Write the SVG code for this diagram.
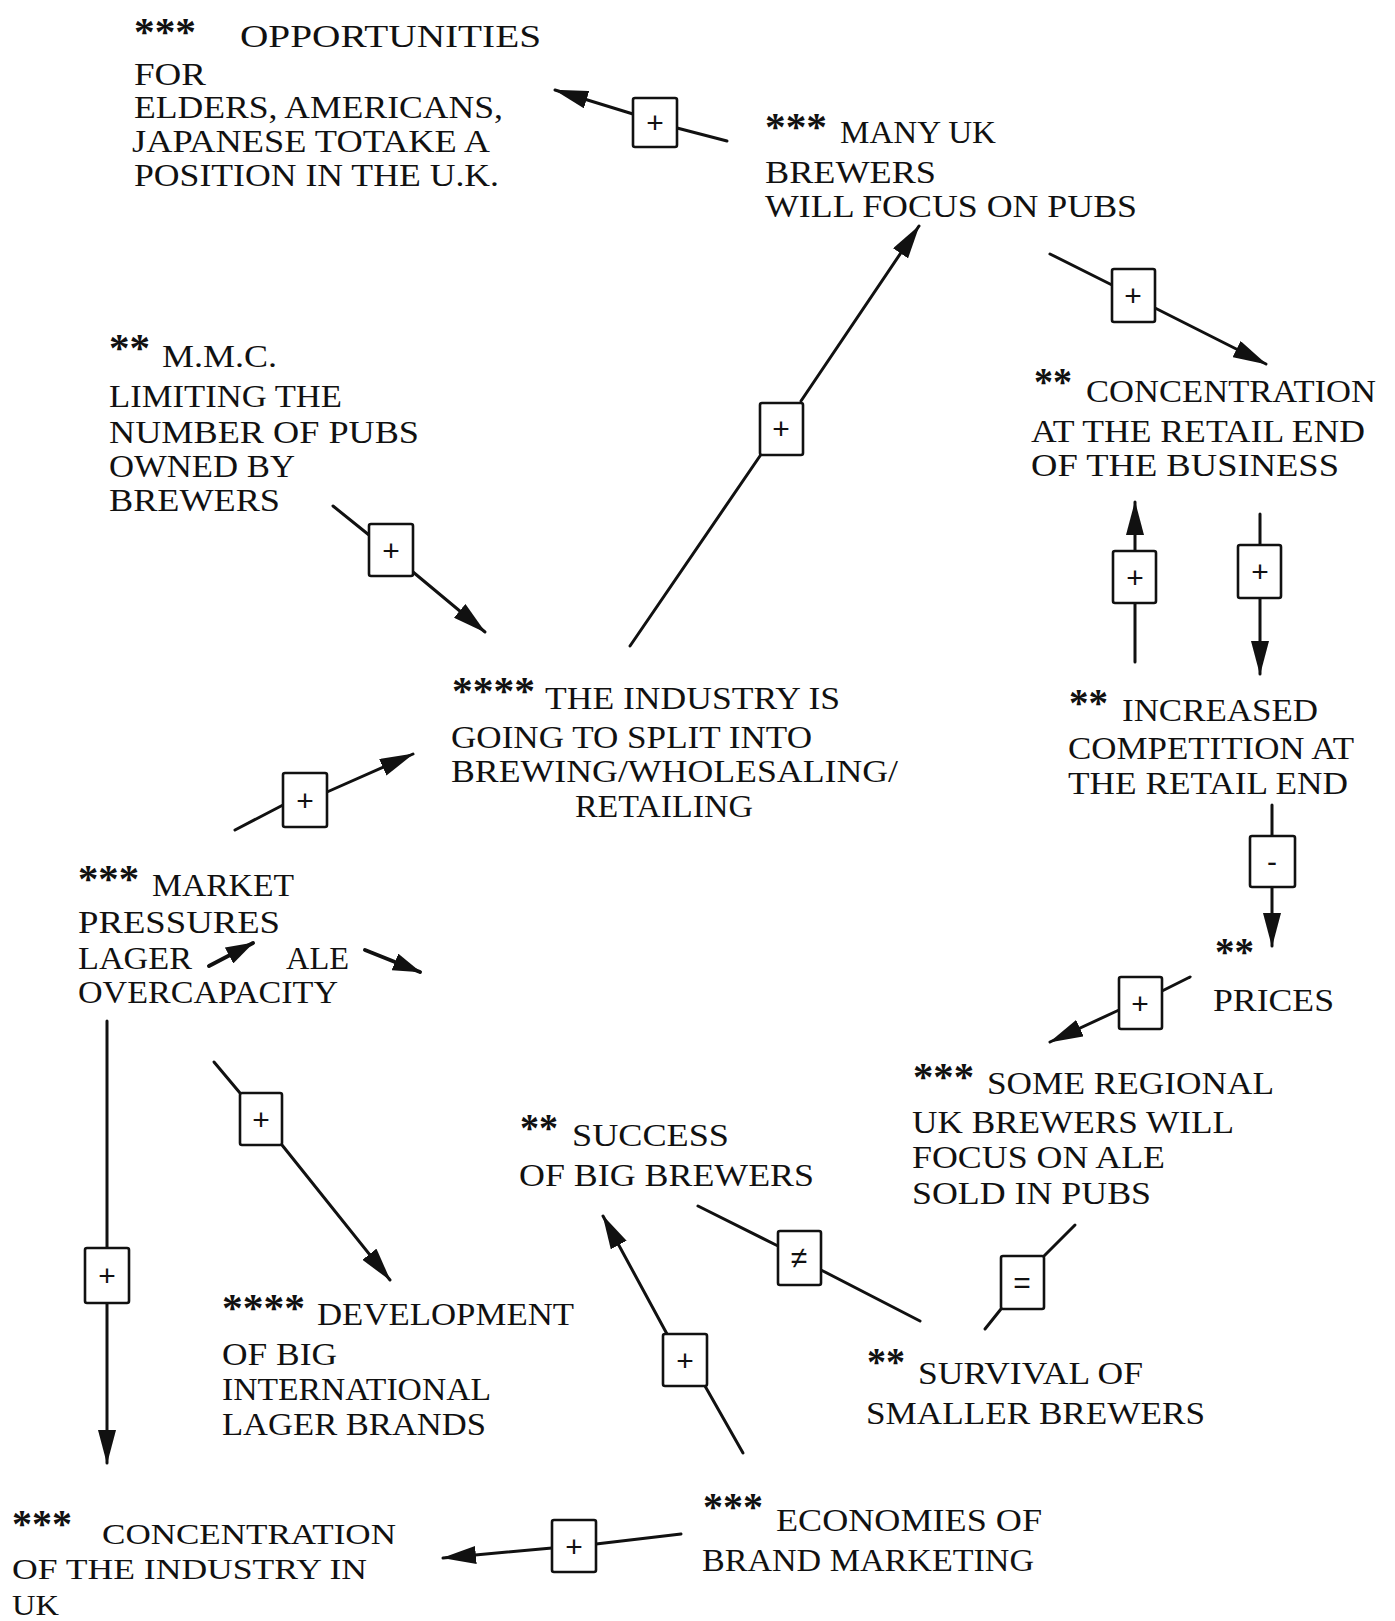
<svg xmlns="http://www.w3.org/2000/svg" width="1395" height="1621" viewBox="0 0 1395 1621">
<style>
.t{font-family:"Liberation Serif","Times New Roman",serif;font-size:32px;fill:#111}
.t2{font-family:"Liberation Serif","Times New Roman",serif;font-size:30px;fill:#111}
.a{font-family:"Liberation Serif","Times New Roman",serif;font-size:40px;font-weight:bold;fill:#111}
.c{stroke:#111;stroke-width:3;fill:none;stroke-linecap:round}
.cs{stroke:#111;stroke-width:4;fill:none;stroke-linecap:round}
.b{fill:#fff;stroke:#111;stroke-width:2.6}
.sg{font-family:"Liberation Sans",Arial,sans-serif;font-size:30px;fill:#111;text-anchor:middle}
</style>
<defs>
<marker id="ah" viewBox="0 0 34 18" refX="33" refY="9" markerWidth="34" markerHeight="18" markerUnits="userSpaceOnUse" orient="auto">
<path d="M0,0 L34,9 L0,18 z" fill="#111"/>
</marker>
<marker id="ahs" viewBox="0 0 28 18" refX="27" refY="9" markerWidth="28" markerHeight="18" markerUnits="userSpaceOnUse" orient="auto">
<path d="M0,0 L28,9 L0,18 z" fill="#111"/>
</marker>
</defs>

<g id="n-opportunities">
<text class="a" x="134" y="45" textLength="62" lengthAdjust="spacingAndGlyphs">***</text>
<text class="t" x="240" y="47" textLength="301" lengthAdjust="spacingAndGlyphs">OPPORTUNITIES</text>
<text class="t" x="134" y="85" textLength="72" lengthAdjust="spacingAndGlyphs">FOR</text>
<text class="t" x="134" y="118" textLength="369" lengthAdjust="spacingAndGlyphs">ELDERS, AMERICANS,</text>
<text class="t" x="132" y="152" textLength="358" lengthAdjust="spacingAndGlyphs">JAPANESE TOTAKE A</text>
<text class="t" x="134" y="186" textLength="365" lengthAdjust="spacingAndGlyphs">POSITION IN THE U.K.</text>
</g>

<g id="n-many-uk">
<text class="a" x="765" y="140" textLength="62" lengthAdjust="spacingAndGlyphs">***</text>
<text class="t" x="840" y="143" textLength="156" lengthAdjust="spacingAndGlyphs">MANY UK</text>
<text class="t" x="765" y="183" textLength="171" lengthAdjust="spacingAndGlyphs">BREWERS</text>
<text class="t" x="765" y="217" textLength="372" lengthAdjust="spacingAndGlyphs">WILL FOCUS ON PUBS</text>
</g>

<g id="n-mmc">
<text class="a" x="109" y="361" textLength="41" lengthAdjust="spacingAndGlyphs">**</text>
<text class="t" x="162" y="367" textLength="115" lengthAdjust="spacingAndGlyphs">M.M.C.</text>
<text class="t" x="109" y="407" textLength="233" lengthAdjust="spacingAndGlyphs">LIMITING THE</text>
<text class="t" x="109" y="443" textLength="310" lengthAdjust="spacingAndGlyphs">NUMBER OF PUBS</text>
<text class="t" x="109" y="477" textLength="186" lengthAdjust="spacingAndGlyphs">OWNED BY</text>
<text class="t" x="109" y="511" textLength="171" lengthAdjust="spacingAndGlyphs">BREWERS</text>
</g>

<g id="n-conc-retail">
<text class="a" x="1034" y="395" textLength="38" lengthAdjust="spacingAndGlyphs">**</text>
<text class="t" x="1086" y="402" textLength="290" lengthAdjust="spacingAndGlyphs">CONCENTRATION</text>
<text class="t" x="1031" y="442" textLength="334" lengthAdjust="spacingAndGlyphs">AT THE RETAIL END</text>
<text class="t" x="1031" y="476" textLength="308" lengthAdjust="spacingAndGlyphs">OF THE BUSINESS</text>
</g>

<g id="n-industry">
<text class="a" x="452" y="704" textLength="83" lengthAdjust="spacingAndGlyphs">****</text>
<text class="t" x="545" y="709" textLength="295" lengthAdjust="spacingAndGlyphs">THE INDUSTRY IS</text>
<text class="t" x="451" y="748" textLength="361" lengthAdjust="spacingAndGlyphs">GOING TO SPLIT INTO</text>
<text class="t" x="451" y="782" textLength="447" lengthAdjust="spacingAndGlyphs">BREWING/WHOLESALING/</text>
<text class="t" x="575" y="817" textLength="178" lengthAdjust="spacingAndGlyphs">RETAILING</text>
</g>

<g id="n-competition">
<text class="a" x="1069" y="716" textLength="39" lengthAdjust="spacingAndGlyphs">**</text>
<text class="t" x="1122" y="721" textLength="196" lengthAdjust="spacingAndGlyphs">INCREASED</text>
<text class="t" x="1068" y="759" textLength="286" lengthAdjust="spacingAndGlyphs">COMPETITION AT</text>
<text class="t" x="1068" y="794" textLength="280" lengthAdjust="spacingAndGlyphs">THE RETAIL END</text>
</g>

<g id="n-market">
<text class="a" x="78" y="892" textLength="61" lengthAdjust="spacingAndGlyphs">***</text>
<text class="t" x="152" y="896" textLength="142" lengthAdjust="spacingAndGlyphs">MARKET</text>
<text class="t" x="78" y="933" textLength="202" lengthAdjust="spacingAndGlyphs">PRESSURES</text>
<text class="t" x="78" y="969" textLength="114" lengthAdjust="spacingAndGlyphs">LAGER</text>
<text class="t" x="286" y="969" textLength="63" lengthAdjust="spacingAndGlyphs">ALE</text>
<text class="t" x="78" y="1003" textLength="260" lengthAdjust="spacingAndGlyphs">OVERCAPACITY</text>
<line class="cs" x1="209" y1="966" x2="253" y2="943" marker-end="url(#ahs)"/>
<line class="cs" x1="365" y1="950" x2="420" y2="972" marker-end="url(#ahs)"/>
</g>

<g id="n-prices">
<text class="a" x="1215" y="965" textLength="39" lengthAdjust="spacingAndGlyphs">**</text>
<text class="t" x="1213" y="1011" textLength="121" lengthAdjust="spacingAndGlyphs">PRICES</text>
</g>

<g id="n-regional">
<text class="a" x="913" y="1090" textLength="61" lengthAdjust="spacingAndGlyphs">***</text>
<text class="t" x="987" y="1094" textLength="287" lengthAdjust="spacingAndGlyphs">SOME REGIONAL</text>
<text class="t" x="912" y="1133" textLength="322" lengthAdjust="spacingAndGlyphs">UK BREWERS WILL</text>
<text class="t" x="912" y="1168" textLength="253" lengthAdjust="spacingAndGlyphs">FOCUS ON ALE</text>
<text class="t" x="912" y="1204" textLength="239" lengthAdjust="spacingAndGlyphs">SOLD IN PUBS</text>
</g>

<g id="n-success">
<text class="a" x="520" y="1141" textLength="38" lengthAdjust="spacingAndGlyphs">**</text>
<text class="t" x="572" y="1146" textLength="157" lengthAdjust="spacingAndGlyphs">SUCCESS</text>
<text class="t" x="519" y="1186" textLength="295" lengthAdjust="spacingAndGlyphs">OF BIG BREWERS</text>
</g>

<g id="n-development">
<text class="a" x="222" y="1321" textLength="83" lengthAdjust="spacingAndGlyphs">****</text>
<text class="t" x="317" y="1325" textLength="257" lengthAdjust="spacingAndGlyphs">DEVELOPMENT</text>
<text class="t" x="222" y="1365" textLength="115" lengthAdjust="spacingAndGlyphs">OF BIG</text>
<text class="t" x="222" y="1400" textLength="269" lengthAdjust="spacingAndGlyphs">INTERNATIONAL</text>
<text class="t" x="222" y="1435" textLength="264" lengthAdjust="spacingAndGlyphs">LAGER BRANDS</text>
</g>

<g id="n-survival">
<text class="a" x="867" y="1375" textLength="38" lengthAdjust="spacingAndGlyphs">**</text>
<text class="t" x="918" y="1384" textLength="225" lengthAdjust="spacingAndGlyphs">SURVIVAL OF</text>
<text class="t" x="866" y="1424" textLength="339" lengthAdjust="spacingAndGlyphs">SMALLER BREWERS</text>
</g>

<g id="n-conc-industry">
<text class="a" x="12" y="1537" textLength="60" lengthAdjust="spacingAndGlyphs">***</text>
<text class="t2" x="102" y="1544" textLength="294" lengthAdjust="spacingAndGlyphs">CONCENTRATION</text>
<text class="t2" x="12" y="1579" textLength="355" lengthAdjust="spacingAndGlyphs">OF THE INDUSTRY IN</text>
<text class="t2" x="12" y="1615" textLength="47" lengthAdjust="spacingAndGlyphs">UK</text>
</g>

<g id="n-economies">
<text class="a" x="703" y="1520" textLength="60" lengthAdjust="spacingAndGlyphs">***</text>
<text class="t" x="776" y="1531" textLength="266" lengthAdjust="spacingAndGlyphs">ECONOMIES OF</text>
<text class="t" x="702" y="1571" textLength="332" lengthAdjust="spacingAndGlyphs">BRAND MARKETING</text>
</g>

<g id="connectors">
<g id="e1">
<line class="c" x1="727" y1="141" x2="677" y2="128"/>
<line class="c" x1="633" y1="114" x2="555" y2="90" marker-end="url(#ah)"/>
<rect class="b" x="633" y="98" width="44" height="49" rx="2"/>
<text class="sg" x="655" y="133">+</text>
</g>
<g id="e2">
<line class="c" x1="630" y1="646" x2="762" y2="453"/>
<line class="c" x1="801" y1="401" x2="919" y2="226" marker-end="url(#ah)"/>
<rect class="b" x="760" y="403" width="43" height="52" rx="2"/>
<text class="sg" x="781" y="439">+</text>
</g>
<g id="e3">
<line class="c" x1="1050" y1="254" x2="1112" y2="285"/>
<line class="c" x1="1155" y1="308" x2="1266" y2="364" marker-end="url(#ah)"/>
<rect class="b" x="1112" y="269" width="43" height="53" rx="2"/>
<text class="sg" x="1133" y="306">+</text>
</g>
<g id="e4">
<line class="c" x1="333" y1="506" x2="369" y2="535"/>
<line class="c" x1="413" y1="572" x2="485" y2="632" marker-end="url(#ah)"/>
<rect class="b" x="369" y="524" width="44" height="52" rx="2"/>
<text class="sg" x="391" y="561">+</text>
</g>
<g id="e5">
<line class="c" x1="1135" y1="662" x2="1135" y2="603"/>
<line class="c" x1="1135" y1="551" x2="1135" y2="502" marker-end="url(#ah)"/>
<rect class="b" x="1113" y="551" width="43" height="52" rx="2"/>
<text class="sg" x="1135" y="588">+</text>
</g>
<g id="e6">
<line class="c" x1="1260" y1="514" x2="1260" y2="545"/>
<line class="c" x1="1260" y1="598" x2="1260" y2="674" marker-end="url(#ah)"/>
<rect class="b" x="1238" y="545" width="43" height="53" rx="2"/>
<text class="sg" x="1260" y="582">+</text>
</g>
<g id="e7">
<line class="c" x1="1272" y1="805" x2="1272" y2="836"/>
<line class="c" x1="1272" y1="887" x2="1272" y2="946" marker-end="url(#ah)"/>
<rect class="b" x="1250" y="836" width="45" height="51" rx="2"/>
<text class="sg" x="1272" y="872">-</text>
</g>
<g id="e8">
<line class="c" x1="1190" y1="977" x2="1162" y2="991"/>
<line class="c" x1="1119" y1="1010" x2="1050" y2="1042" marker-end="url(#ah)"/>
<rect class="b" x="1119" y="977" width="43" height="52" rx="2"/>
<text class="sg" x="1140" y="1014">+</text>
</g>
<g id="e9">
<line class="c" x1="235" y1="830" x2="283" y2="805"/>
<line class="c" x1="327" y1="792" x2="413" y2="754" marker-end="url(#ah)"/>
<rect class="b" x="283" y="773" width="44" height="54" rx="2"/>
<text class="sg" x="305" y="811">+</text>
</g>
<g id="e10">
<line class="c" x1="214" y1="1062" x2="240" y2="1093"/>
<line class="c" x1="282" y1="1145" x2="390" y2="1280" marker-end="url(#ah)"/>
<rect class="b" x="240" y="1093" width="42" height="52" rx="2"/>
<text class="sg" x="261" y="1130">+</text>
</g>
<g id="e11">
<line class="c" x1="107" y1="1021" x2="107" y2="1248"/>
<line class="c" x1="107" y1="1303" x2="107" y2="1463" marker-end="url(#ah)"/>
<rect class="b" x="85" y="1248" width="44" height="55" rx="2"/>
<text class="sg" x="107" y="1286">+</text>
</g>
<g id="e12">
<line class="c" x1="743" y1="1453" x2="705" y2="1386"/>
<line class="c" x1="667" y1="1334" x2="603" y2="1216" marker-end="url(#ah)"/>
<rect class="b" x="663" y="1334" width="44" height="52" rx="2"/>
<text class="sg" x="685" y="1371">+</text>
</g>
<g id="e13">
<line class="c" x1="698" y1="1206" x2="778" y2="1246"/>
<line class="c" x1="821" y1="1270" x2="920" y2="1321"/>
<rect class="b" x="778" y="1231" width="43" height="54" rx="2"/>
<text class="sg" x="799" y="1268">≠</text>
</g>
<g id="e14">
<line class="c" x1="1075" y1="1225" x2="1044" y2="1256"/>
<line class="c" x1="1001" y1="1309" x2="985" y2="1329"/>
<rect class="b" x="1001" y="1256" width="43" height="53" rx="2"/>
<text class="sg" x="1022" y="1293">=</text>
</g>
<g id="e15">
<line class="c" x1="681" y1="1534" x2="596" y2="1544"/>
<line class="c" x1="552" y1="1548" x2="443" y2="1558" marker-end="url(#ah)"/>
<rect class="b" x="552" y="1520" width="44" height="52" rx="2"/>
<text class="sg" x="574" y="1557">+</text>
</g>
</g>
</svg>
